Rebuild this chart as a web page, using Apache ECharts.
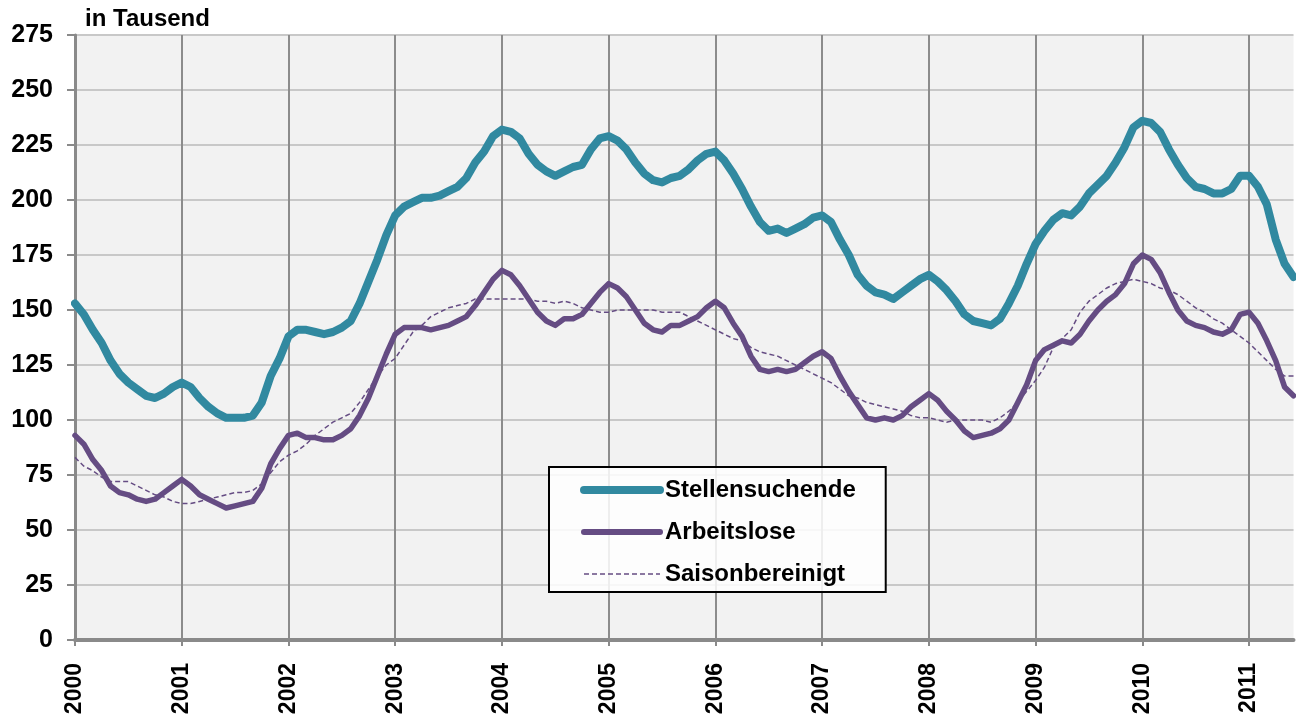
<!DOCTYPE html>
<html>
<head>
<meta charset="utf-8">
<script src="https://cdn.jsdelivr.net/npm/echarts@6/dist/echarts.min.js"></script>
<style>
html,body{margin:0;padding:0;background:#fff;}
#chart{width:1296px;height:722px;}
</style>
</head>
<body>
<div id="chart"></div>
<script>
const years = ['2000','2001','2002','2003','2004','2005','2006','2007','2008','2009','2010','2011'];
const monthsInLastYear = 6;
const yTicks = [0, 25, 50, 75, 100, 125, 150, 175, 200, 225, 250, 275];

const stellensuchende = [
153,148,141,135,127,121,117,114,111,110,112,115,
117,115,110,106,103,101,101,101,102,108,120,128,
138,141,141,140,139,140,142,145,153,163,173,184,
193,197,199,201,201,202,204,206,210,217,222,229,
232,231,228,221,216,213,211,213,215,216,223,228,
229,227,223,217,212,209,208,210,211,214,218,221,
222,218,212,205,197,190,186,187,185,187,189,192,
193,190,182,175,166,161,158,157,155,158,161,164,
166,163,159,154,148,145,144,143,146,153,161,171,
180,186,191,194,193,197,203,207,211,217,224,233,
236,235,231,223,216,210,206,205,203,203,205,211,
211,206,198,182,171,165
];
const arbeitslose = [
93,89,82,77,70,67,66,64,63,64,67,70,
73,70,66,64,62,60,61,62,63,69,80,87,
93,94,92,92,91,91,93,96,102,110,120,130,
139,142,142,142,141,142,143,145,147,152,158,164,
168,166,161,155,149,145,143,146,146,148,153,158,
162,160,156,150,144,141,140,143,143,145,147,151,
154,151,144,138,129,123,122,123,122,123,126,129,
131,128,120,113,107,101,100,101,100,102,106,109,
112,109,104,100,95,92,93,94,96,100,108,116,
127,132,134,136,135,139,145,150,154,157,162,171,
175,173,167,158,150,145,143,142,140,139,141,148,
149,144,136,127,115,111
];
const saisonbereinigt = [
83,79,77,74,72,72,72,70,68,66,65,63,
62,62,63,64,65,66,67,67,68,71,76,81,
84,86,89,93,96,99,101,103,108,114,120,125,
128,134,140,143,147,149,151,152,153,155,155,155,
155,155,155,155,154,154,153,154,153,151,150,149,
149,150,150,150,150,150,149,149,149,147,145,143,
141,139,137,136,133,131,130,129,127,125,123,121,
119,117,114,111,110,108,107,106,105,104,102,101,
101,100,99,100,100,100,100,99,101,104,108,113,
118,124,133,137,141,149,154,157,160,162,163,164,
163,162,160,159,157,154,151,149,146,144,141,138,
135,131,127,123,120,120
];

const categories = [];
years.forEach((y, i) => {
  const n = (i === years.length - 1) ? monthsInLastYear : 12;
  for (let m = 1; m <= n; m++) categories.push(y + '-' + (m < 10 ? '0' + m : m));
});

const FONT = '"Liberation Sans", Arial, sans-serif';
const teal = '#3189a0';
const purple = '#654c83';

const chart = echarts.init(document.getElementById('chart'));
chart.setOption({
  animation: false,
  backgroundColor: '#ffffff',
  title: {
    text: 'in Tausend',
    left: 85, top: 7, padding: 0,
    textStyle: {fontFamily: FONT, fontSize: 24, fontWeight: 'bold', color: '#000'}
  },
  grid: {
    left: 75, right: 2.5, top: 35, bottom: 82,
    show: true, backgroundColor: '#f2f2f2', borderWidth: 0
  },
  legend: {
    orient: 'vertical',
    left: 549, top: 467,
    padding: [11, 30, 6, 31],
    backgroundColor: 'rgba(255,255,255,0.85)',
    borderColor: '#000', borderWidth: 2, borderRadius: 0,
    itemWidth: 76, itemHeight: 14, itemGap: 18,
    textStyle: {fontFamily: FONT, fontSize: 24, fontWeight: 'bold', color: '#000', lineHeight: 24},
    data: [
      {name: 'Stellensuchende', lineStyle: {width: 8, cap: 'round'}, itemStyle: {opacity: 0}},
      {name: 'Arbeitslose', lineStyle: {width: 6, cap: 'round'}, itemStyle: {opacity: 0}},
      {name: 'Saisonbereinigt', lineStyle: {width: 1.5}, itemStyle: {opacity: 0}}
    ]
  },
  xAxis: {
    type: 'category',
    data: categories,
    boundaryGap: false,
    axisLine: {show: true, lineStyle: {color: '#8a8a8a', width: 4}},
    axisTick: {show: true, interval: 11, length: 6, lineStyle: {color: '#8a8a8a', width: 2}},
    splitLine: {show: true, interval: 11, lineStyle: {color: '#8c8c8c', width: 2}},
    axisLabel: {
      interval: 11, rotate: 90, margin: 23,
      fontFamily: FONT, fontSize: 23, fontWeight: 'bold', color: '#000',
      formatter: v => v.slice(0, 4)
    }
  },
  yAxis: {
    type: 'value',
    min: yTicks[0], max: yTicks[yTicks.length - 1], interval: 25,
    axisLine: {show: true, lineStyle: {color: '#8a8a8a', width: 3}},
    axisTick: {show: true, length: 8, lineStyle: {color: '#8a8a8a', width: 2}},
    splitLine: {show: true, lineStyle: {color: '#c8c8c8', width: 2}},
    axisLabel: {
      margin: 22,
      fontFamily: FONT, fontSize: 25, fontWeight: 'bold', color: '#000'
    }
  },
  series: [
    {
      name: 'Stellensuchende', type: 'line', data: stellensuchende,
      symbol: 'none', showSymbol: false, z: 3,
      lineStyle: {color: teal, width: 8, join: 'round', cap: 'round'},
      itemStyle: {color: teal}
    },
    {
      name: 'Arbeitslose', type: 'line', data: arbeitslose,
      symbol: 'none', showSymbol: false, z: 4,
      lineStyle: {color: purple, width: 5.5, join: 'round', cap: 'round'},
      itemStyle: {color: purple}
    },
    {
      name: 'Saisonbereinigt', type: 'line', data: saisonbereinigt,
      symbol: 'none', showSymbol: false, z: 5,
      lineStyle: {color: purple, width: 1.5, type: [5, 3]},
      itemStyle: {color: purple}
    }
  ]
});
</script>
</body>
</html>
